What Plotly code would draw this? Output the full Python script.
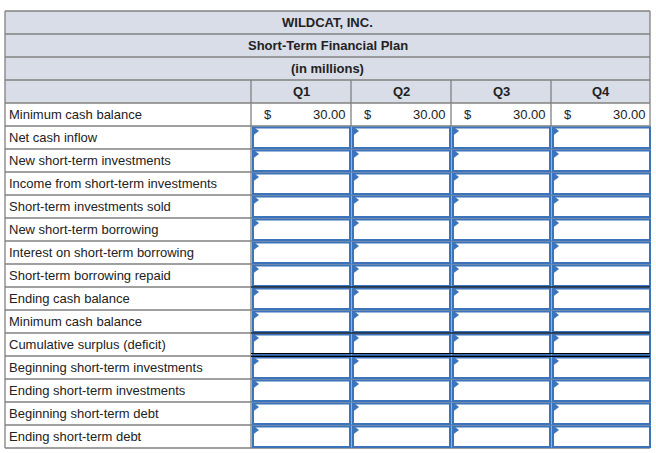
"""
WILDCAT, INC. - plan financiero de corto plazo (tabla de entrada)
"""
import plotly.graph_objects as go

titulos = ["WILDCAT, INC.", "Short-Term Financial Plan", "(in millions)"]
trimestres = ["Q1", "Q2", "Q3", "Q4"]
filas = [
    "Minimum cash balance",
    "Net cash inflow",
    "New short-term investments",
    "Income from short-term investments",
    "Short-term investments sold",
    "New short-term borrowing",
    "Interest on short-term borrowing",
    "Short-term borrowing repaid",
    "Ending cash balance",
    "Minimum cash balance",
    "Cumulative surplus (deficit)",
    "Beginning short-term investments",
    "Ending short-term investments",
    "Beginning short-term debt",
    "Ending short-term debt",
]
caja_minima = [30.00, 30.00, 30.00, 30.00]
# raya contable encima de la fila (índice de fila de datos)
rayas = {8: "single", 10: "single", 11: "double"}

COLORS = {
    "header": "#d9dde7",
    "grid": "#808080",
    "input": "#3b74bb",
    "text": "#222222",
}

W, H = 656, 453
TOP, ROW_H = 11, 23
LEFT, LABEL_W, COL_W = 5, 246, 100
RIGHT = LEFT + LABEL_W + COL_W * len(trimestres) - 1
N_HEAD = len(titulos) + 1
FONT = "Liberation Sans, Arial, sans-serif"


def y_top(i):
    return TOP + ROW_H * i


def x_col(j):
    return LEFT + LABEL_W + COL_W * j


bottom = y_top(N_HEAD + len(filas))
shapes = []
annotations = []

# fondo encabezado
shapes.append(dict(type="rect", x0=LEFT, x1=RIGHT, y0=y_top(0), y1=y_top(N_HEAD),
                   fillcolor=COLORS["header"], line_width=0, layer="below"))

# cuadrícula gris
for i in range(N_HEAD + len(filas) + 1):
    shapes.append(dict(type="line", x0=LEFT, x1=RIGHT, y0=y_top(i), y1=y_top(i),
                       line=dict(color=COLORS["grid"], width=1.3), layer="below"))
for x in [LEFT, RIGHT]:
    shapes.append(dict(type="line", x0=x, x1=x, y0=y_top(0), y1=bottom,
                       line=dict(color=COLORS["grid"], width=1.3), layer="below"))
for j in range(len(trimestres)):
    shapes.append(dict(type="line", x0=x_col(j), x1=x_col(j), y0=y_top(N_HEAD - 1), y1=bottom,
                       line=dict(color=COLORS["grid"], width=1.3), layer="below"))

# cajas de entrada
tri_x, tri_y = [], []
for r in range(1, len(filas)):
    for j in range(len(trimestres)):
        shapes.append(dict(type="rect",
                           x0=x_col(j) + 2, x1=x_col(j) + COL_W - 1,
                           y0=y_top(N_HEAD + r) + 1.5, y1=y_top(N_HEAD + r + 1) - 1,
                           fillcolor="white", line=dict(color=COLORS["input"], width=2),
                           layer="below"))
        tri_x.append(x_col(j) + 4.5)
        tri_y.append(y_top(N_HEAD + r) + 5)

# rayas negras (totales)
for r, estilo in rayas.items():
    y = y_top(N_HEAD + r)
    ys = [y] if estilo == "single" else [y - 2.5, y + 0.3]
    for yy in ys:
        shapes.append(dict(type="line", x0=x_col(0), x1=RIGHT, y0=yy, y1=yy,
                           line=dict(color="black", width=1.2), layer="below"))

# textos
for i, t in enumerate(titulos):
    annotations.append(dict(x=(LEFT + RIGHT) / 2, y=y_top(i) + ROW_H / 2, text=f"<b>{t}</b>",
                            xanchor="center"))
for j, q in enumerate(trimestres):
    annotations.append(dict(x=x_col(j) + COL_W / 2, y=y_top(N_HEAD - 1) + ROW_H / 2,
                            text=f"<b>{q}</b>", xanchor="center"))
for r, f in enumerate(filas):
    annotations.append(dict(x=LEFT + 2, y=y_top(N_HEAD + r) + ROW_H / 2, text=f,
                            xanchor="left"))
for j, v in enumerate(caja_minima):
    yc = y_top(N_HEAD) + ROW_H / 2
    annotations.append(dict(x=x_col(j) + 11, y=yc, text="$", xanchor="left"))
    annotations.append(dict(x=x_col(j) + COL_W - 3, y=yc, text=f"{v:.2f}", xanchor="right"))

for a in annotations:
    a.update(xref="x", yref="y", yanchor="middle", showarrow=False,
             font=dict(family=FONT, size=13, color=COLORS["text"]))

fig = go.Figure(go.Scatter(
    x=tri_x, y=tri_y, mode="markers", hoverinfo="skip",
    marker=dict(symbol="triangle-right", size=7, color=COLORS["input"], line_width=0),
))
fig.update_layout(
    width=W, height=H,
    margin=dict(l=0, r=0, t=0, b=0),
    paper_bgcolor="white", plot_bgcolor="white",
    xaxis=dict(range=[0, W], visible=False, fixedrange=True),
    yaxis=dict(range=[H, 0], visible=False, fixedrange=True),
    shapes=shapes, annotations=annotations, showlegend=False,
)
fig.write_html("out.html", config={"displayModeBar": False},
               post_script="document.body.style.margin='0';")
